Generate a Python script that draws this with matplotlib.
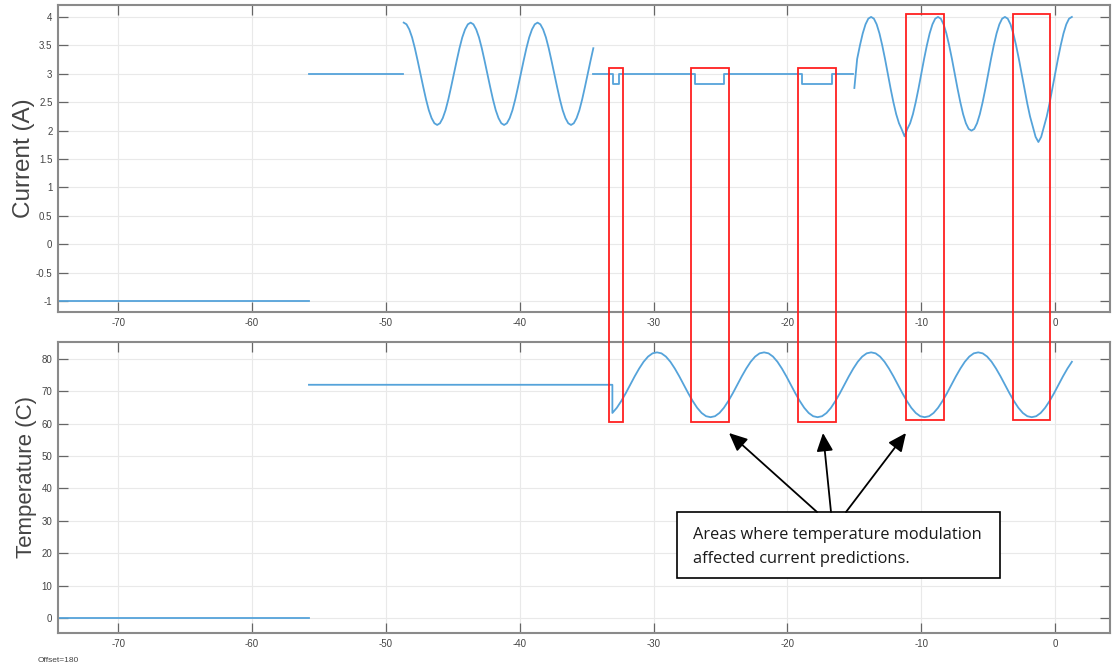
import numpy as np
import matplotlib.pyplot as plt
from matplotlib.patches import Rectangle, FancyArrowPatch
from matplotlib.ticker import FuncFormatter
from matplotlib.transforms import blended_transform_factory

plt.rcParams['font.family'] = ['Liberation Sans', 'DejaVu Sans']

# ---- current (A) ----
cur_idle_t = [-75.0, -55.75]
cur_idle = [-1.0, -1.0]
cur_hold_t = [-55.75, -48.7]
cur_hold = [3.0, 3.0]

# sampled every 5/24 s
cur_wave1_start = -48.67
cur_wave1_step = 5 / 24
cur_wave1 = [3.90, 3.87, 3.78, 3.64, 3.45, 3.23, 3.00, 2.77, 2.55, 2.36, 2.22, 2.13,
             2.10, 2.13, 2.22, 2.36, 2.55, 2.77, 3.00, 3.23, 3.45, 3.64, 3.78, 3.87,
             3.90, 3.87, 3.78, 3.64, 3.45, 3.23, 3.00, 2.77, 2.55, 2.36, 2.22, 2.13,
             2.10, 2.13, 2.22, 2.36, 2.55, 2.77, 3.00, 3.23, 3.45, 3.64, 3.78, 3.87,
             3.90, 3.87, 3.78, 3.64, 3.45, 3.23, 3.00, 2.77, 2.55, 2.36, 2.22, 2.13,
             2.10, 2.13, 2.22, 2.36, 2.55, 2.77, 3.00, 3.23, 3.45]

cur_flat_span = [-34.5, -15.1]
cur_flat_level = 3.0
cur_dip_level = 2.82
cur_dips = [(-33.07, -32.57), (-26.90, -24.71), (-18.88, -16.64)]

cur_wave2_start = -15.0
cur_wave2_step = 5 / 24
cur_wave2 = [2.75, 3.26, 3.50, 3.71, 3.87, 3.97, 4.00, 3.97, 3.87, 3.71, 3.50, 3.26,
             3.00, 2.74, 2.50, 2.29, 2.13, 2.02, 1.90, 2.03, 2.13, 2.29, 2.50, 2.74,
             3.00, 3.26, 3.50, 3.71, 3.87, 3.97, 4.00, 3.97, 3.87, 3.71, 3.50, 3.26,
             3.00, 2.74, 2.50, 2.29, 2.13, 2.03, 2.00, 2.03, 2.13, 2.29, 2.50, 2.74,
             3.00, 3.26, 3.50, 3.71, 3.87, 3.97, 4.00, 3.97, 3.87, 3.71, 3.50, 3.26,
             3.00, 2.74, 2.48, 2.25, 2.07, 1.89, 1.80, 1.89, 2.07, 2.25, 2.48, 2.74,
             3.00, 3.26, 3.50, 3.71, 3.87, 3.97, 4.00]

# ---- temperature (C) ----
temp_idle_t = [-75.0, -55.75]
temp_idle = [0.0, 0.0]
temp_hold_t = [-55.75, -33.08]
temp_hold = [72.0, 72.0]
temp_wave_start = -33.08
temp_wave_step = 1 / 3
temp_wave = [63.3, 64.9, 67.0, 69.4, 72.0, 74.6, 77.0, 79.1, 80.7, 81.7, 82.0, 81.7,
             80.7, 79.1, 77.0, 74.6, 72.0, 69.4, 67.0, 64.9, 63.3, 62.3, 62.0, 62.3,
             63.3, 64.9, 67.0, 69.4, 72.0, 74.6, 77.0, 79.1, 80.7, 81.7, 82.0, 81.7,
             80.7, 79.1, 77.0, 74.6, 72.0, 69.4, 67.0, 64.9, 63.3, 62.3, 62.0, 62.3,
             63.3, 64.9, 67.0, 69.4, 72.0, 74.6, 77.0, 79.1, 80.7, 81.7, 82.0, 81.7,
             80.7, 79.1, 77.0, 74.6, 72.0, 69.4, 67.0, 64.9, 63.3, 62.3, 62.0, 62.3,
             63.3, 64.9, 67.0, 69.4, 72.0, 74.6, 77.0, 79.1, 80.7, 81.7, 82.0, 81.7,
             80.7, 79.1, 77.0, 74.6, 72.0, 69.4, 67.0, 64.9, 63.3, 62.3, 62.0, 62.3,
             63.3, 64.9, 67.0, 69.4, 72.0, 74.6, 77.0, 79.1]

# highlighted windows (x in seconds), drawn across both panels
highlight_windows = [(-33.32, -32.27), (-27.19, -24.36), (-19.20, -16.36),
                     (-11.13, -8.29), (-3.14, -0.37)]
highlight_top_px = [68, 68, 68, 14, 14]
highlight_bottom_px = [422, 422, 422, 420, 420]

xticks = [-70, -60, -50, -40, -30, -20, -10, 0]
cur_yticks = np.arange(-1, 4.01, 0.5)
temp_yticks = np.arange(0, 81, 10)

line_color = '#55a3da'
W, H = 1112, 667

fig = plt.figure(figsize=(W / 100, H / 100), dpi=100)
ax1 = fig.add_axes([58 / W, 1 - 312 / H, 1052 / W, 307 / H])
ax2 = fig.add_axes([58 / W, 1 - 633 / H, 1052 / W, 291 / H])


def style(ax):
    ax.set_xlim(-74.5, 4.1)
    ax.set_xticks(xticks)
    ax.grid(True, color='#e9e9e9', lw=0.8)
    ax.set_axisbelow(True)
    for s in ax.spines.values():
        s.set_color('#8a8a8a')
        s.set_linewidth(1.5)
    ax.tick_params(direction='in', length=7, width=0.9, color='#666666',
                   top=True, right=True, labelsize=7, labelcolor='#444444', pad=4)
    ax.xaxis.set_major_formatter(FuncFormatter(lambda v, _: f'{v:g}'))
    ax.yaxis.set_major_formatter(FuncFormatter(lambda v, _: f'{v:g}'))


# current panel
ax1.plot(cur_idle_t, cur_idle, color=line_color, lw=1.3)
ax1.plot(cur_hold_t, cur_hold, color=line_color, lw=1.3)
t1 = cur_wave1_start + cur_wave1_step * np.arange(len(cur_wave1))
ax1.plot(t1, cur_wave1, color=line_color, lw=1.3)

flat_t, flat_y = [cur_flat_span[0]], [cur_flat_level]
for a, b in cur_dips:
    flat_t += [a, a, b, b]
    flat_y += [cur_flat_level, cur_dip_level, cur_dip_level, cur_flat_level]
flat_t.append(cur_flat_span[1])
flat_y.append(cur_flat_level)
ax1.plot(flat_t, flat_y, color=line_color, lw=1.3)

t2 = cur_wave2_start + cur_wave2_step * np.arange(len(cur_wave2))
ax1.plot(t2, cur_wave2, color=line_color, lw=1.3)

style(ax1)
ax1.set_ylim(-1.19, 4.21)
ax1.set_yticks(cur_yticks)
ax1.set_ylabel('Current (A)', fontsize=17.5, color='#444444')
ax1.yaxis.set_label_coords(-0.022, 0.5)

# temperature panel
ax2.plot(temp_idle_t, temp_idle, color=line_color, lw=1.3)
tt = temp_wave_start + temp_wave_step * np.arange(len(temp_wave))
ax2.plot(list(temp_hold_t) + list(tt), temp_hold + temp_wave, color=line_color, lw=1.3)

style(ax2)
ax2.set_ylim(-4.6, 85.2)
ax2.set_yticks(temp_yticks)
ax2.set_ylabel('Temperature (C)', fontsize=16, color='#444444')
ax2.yaxis.set_label_coords(-0.020, 0.535)

fig.text(38 / W, 1 - 660 / H, 'Offset=180', fontsize=6, color='#444444', va='center')

# red highlight boxes spanning both panels
blend = blended_transform_factory(ax1.transData, fig.transFigure)
for (x0, x1), top, bot in zip(highlight_windows, highlight_top_px, highlight_bottom_px):
    rect = Rectangle((x0, 1 - bot / H), x1 - x0, (bot - top) / H, transform=blend,
                     fill=False, ec='#ff2020', lw=1.3, clip_on=False, zorder=5)
    fig.add_artist(rect)

# callout box and arrows
box = Rectangle((677 / W, 1 - 578 / H), (1000 - 677) / W, (578 - 512) / H,
                transform=fig.transFigure, fill=True, fc='white', ec='black', lw=1.2, zorder=6)
fig.add_artist(box)
fig.text(693 / W, 1 - 547 / H, 'Areas where temperature modulation\naffected current predictions.',
         fontsize=11.8, family=['Open Sans', 'DejaVu Sans'], color='#1a1a1a',
         va='center', ha='left', linespacing=1.6, zorder=7)

arrow_tails = [(817, 512), (831, 512), (846, 512)]
arrow_tips = [(729, 433), (823, 433), (906, 433)]
for (tx, ty), (hx, hy) in zip(arrow_tails, arrow_tips):
    fig.add_artist(FancyArrowPatch(
        (tx / W, 1 - ty / H), (hx / W, 1 - hy / H), transform=fig.transFigure,
        arrowstyle='-|>,head_length=0.55,head_width=0.25', mutation_scale=20,
        color='black', lw=1.3, zorder=6, shrinkA=0, shrinkB=0))

fig.savefig('out.png', dpi=100)
